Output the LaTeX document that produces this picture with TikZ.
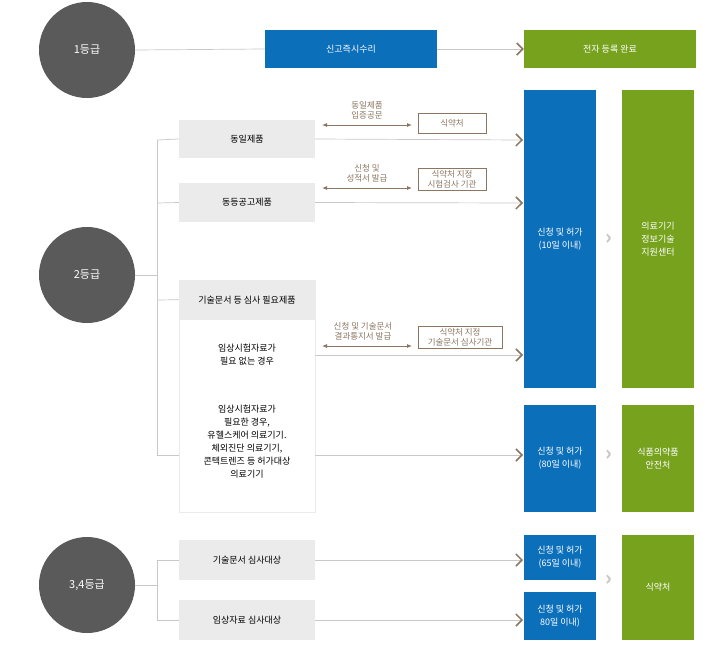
\documentclass[tikz,border=0pt]{standalone}
\usepackage{fontspec}
\setmainfont{Noto Sans CJK KR}
\usetikzlibrary{arrows.meta}
\definecolor{circgray}{HTML}{5A5A5A}
\definecolor{boxblue}{HTML}{0C6FBA}
\definecolor{boxgreen}{HTML}{77A21E}
\definecolor{boxgray}{HTML}{EBEBEB}
\definecolor{arrbrown}{HTML}{8C7662}
\definecolor{linegray}{HTML}{C8C8C8}
\tikzset{
  grade/.style={circle,fill=circgray,minimum size=96pt,inner sep=0pt,text=white,font=\fontsize{11}{13}\selectfont},
  bluebox/.style={fill=boxblue,text=white,align=center,inner sep=0pt,font=\fontsize{9}{13}\selectfont},
  greenbox/.style={fill=boxgreen,text=white,align=center,inner sep=0pt,font=\fontsize{9}{13}\selectfont},
  graybox/.style={fill=boxgray,inner sep=0pt,font=\fontsize{9}{12}\selectfont},
  agencybox/.style={draw=arrbrown,text=arrbrown,align=center,inner sep=2pt,font=\fontsize{8.5}{10}\selectfont},
  note/.style={text=arrbrown,align=center,font=\fontsize{8.5}{10}\selectfont},
  link/.style={linegray,line width=0.7pt},
  toarrow/.style={link,-{Straight Barb[color=arrbrown,length=6pt,width=12pt,line width=1.5pt]}},
  twoway/.style={arrbrown,line width=0.8pt,{Latex[length=5pt,width=4pt]}-{Latex[length=5pt,width=4pt]}},
  chev/.style={text=linegray,font=\bfseries\fontsize{20}{20}\selectfont}
}
\begin{document}
\begin{tikzpicture}[x=1pt,y=-1pt]
\useasboundingbox[fill=white] (0,0) rectangle (727,656);

%grade circles
\node[grade] (g1) at (87,50) {1등급};
\node[grade] (g2) at (87,275) {2등급};
\node[grade] (g3) at (87,585) {3,4등급};

%right column boxes
\node[bluebox,minimum width=172pt,minimum height=38pt] (rep) at (351,49) {신고즉시수리};
\node[greenbox,minimum width=172pt,minimum height=38pt] (reg) at (610,49) {전자 등록 완료};
\node[bluebox,minimum width=72pt,minimum height=298pt] (p10) at (560,239) {신청 및 허가\\(10일 이내)};
\node[greenbox,minimum width=72pt,minimum height=298pt] (nipa) at (658,239) {의료기기\\정보기술\\지원센터};
\node[bluebox,minimum width=72pt,minimum height=107pt] (p80) at (560,458.5) {신청 및 허가\\(80일 이내)};
\node[greenbox,minimum width=72pt,minimum height=107pt] (mfds) at (658,458.5) {식품의약품\\안전처};
\node[bluebox,minimum width=72pt,minimum height=45pt] (p65) at (560,557.5) {신청 및 허가\\(65일 이내)};
\node[bluebox,minimum width=72pt,minimum height=48pt] (p80b) at (560,616) {신청 및 허가\\80일 이내)};
\node[greenbox,minimum width=72pt,minimum height=105pt] (kfda) at (658,587.5) {식약처};
\node[chev] (c1) at (609,239) {›};
\node[chev] (c2) at (609,455) {›};
\node[chev] (c3) at (609,580) {›};

%grade 1
\draw[link] (g1.east) -- (rep.west);
\draw[toarrow] (rep.east) -- (reg.west);

%grade 2 items
\node[graybox,minimum width=136pt,minimum height=38pt] (same) at (247,139) {동일제품};
\node[graybox,minimum width=136pt,minimum height=39pt] (equal) at (247,202.5) {동등공고제품};
\node[draw=boxgray,line width=1pt,minimum width=136pt,minimum height=232pt,inner sep=0pt] (tech) at (247,396) {};
\node[graybox,minimum width=136pt,minimum height=40pt,anchor=north] (techhd) at (tech.north) {기술문서 등 심사 필요제품};
\node[align=center,font=\fontsize{9}{13}\selectfont] (noclin) at (247,355) {임상시험자료가\\필요 없는 경우};
\node[align=center,font=\fontsize{9}{13}\selectfont] (clin) at (247,442) {임상시험자료가\\필요한 경우,\\유헬스케어 의료기기.\\체외진단 의료기기,\\콘텍트렌즈 등 허가대상\\의료기기};
\coordinate (t2) at (157,275);
\draw[link] (g2.east) -- (t2);
\draw[link] (157,140) -- (157,455);
\draw[link] (157,140) -- (same.west);
\draw[link] (157,203) -- (equal.west);
\draw[link] (157,300) -- (techhd.west);
\draw[link] (157,455) -- (179,455);
\draw[toarrow] (same.east) -- (523,140);
\draw[toarrow] (equal.east) -- (523,203);
\draw[toarrow] (315,355) -- (523,355);
\draw[toarrow] (315,455) -- (523,455);

%agencies
\node[agencybox,minimum width=68pt,minimum height=20pt] (kfda1) at (452,123) {식약처};
\node[agencybox,minimum width=68pt] (lab) at (452,179) {식약처 지정\\시험검사 기관};
\node[agencybox,minimum width=84pt] (techrev) at (460,337) {식약처 지정\\기술문서 심사기관};
\coordinate (a1) at (322,125); \coordinate (b1) at (412,125);
\coordinate (a2) at (322,188); \coordinate (b2) at (412,188);
\coordinate (a3) at (322,346); \coordinate (b3) at (412,346);
\draw[twoway] (a1) -- (b1);
\draw[twoway] (a2) -- (b2);
\draw[twoway] (a3) -- (b3);
\node[note,above=2pt] (n1) at (367,125) {동일제품\\입증공문};
\node[note,above=2pt] (n2) at (367,188) {신청 및\\성적서 발급};
\node[note,above=2pt] (n3) at (363,346) {신청 및 기술문서\\결과통지서 발급};

%grade 3,4
\node[graybox,minimum width=136pt,minimum height=40pt] (techdoc) at (247,560) {기술문서 심사대상};
\node[graybox,minimum width=136pt,minimum height=40pt] (clindoc) at (247,620) {임상자료 심사대상};
\draw[link] (g3.east) -- (157,585);
\draw[link] (157,560) -- (157,620);
\draw[link] (157,560) -- (techdoc.west);
\draw[link] (157,620) -- (clindoc.west);
\draw[toarrow] (techdoc.east) -- (523,560);
\draw[toarrow] (clindoc.east) -- (523,620);
\end{tikzpicture}
\end{document}
